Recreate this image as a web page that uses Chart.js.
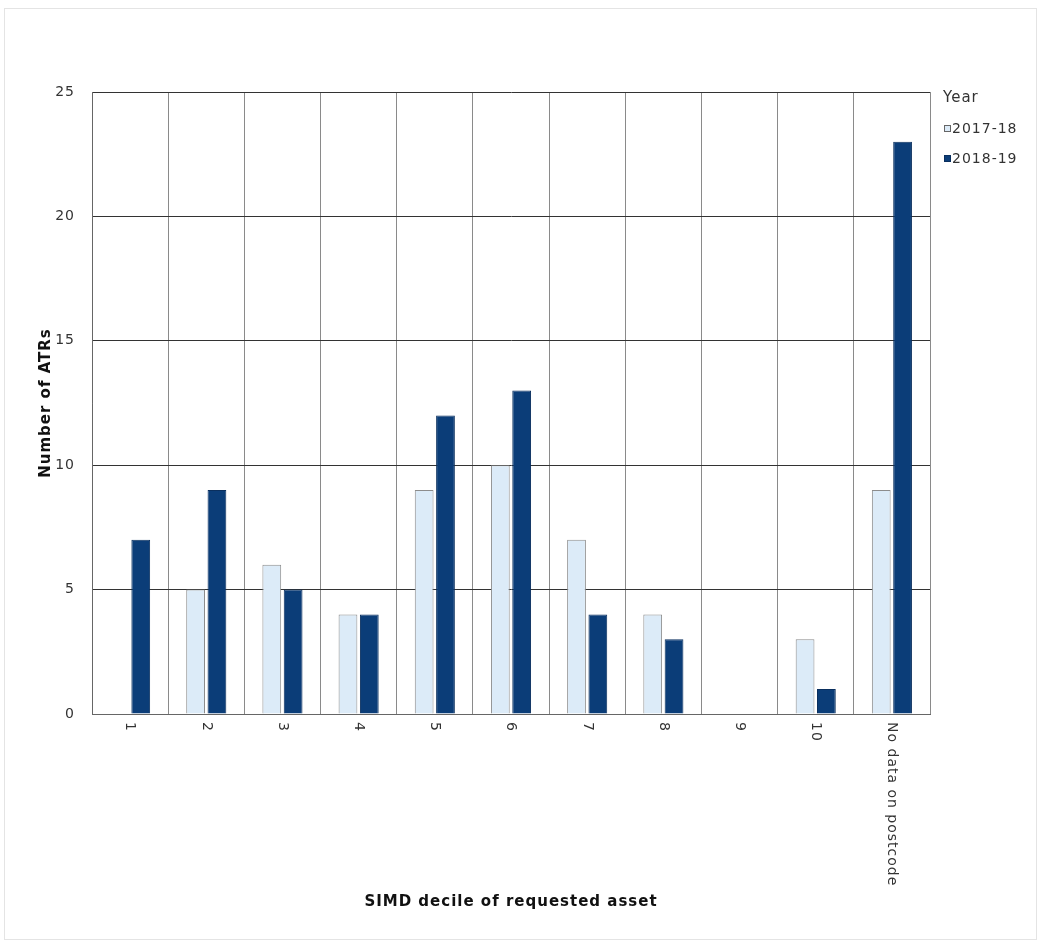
<!DOCTYPE html>
<html>
<head>
<meta charset="utf-8">
<script src="https://cdn.jsdelivr.net/npm/chart.js@4"></script>
<style>
  html, body { margin: 0; padding: 0; background: #fff; }
  #wrap { width: 1041px; height: 943px; }
</style>
</head>
<body>
<div id="wrap"><canvas id="chart" width="1041" height="943"></canvas></div>
<script>
// SIMD decile categories and ATR counts per year
const categories = ['1', '2', '3', '4', '5', '6', '7', '8', '9', '10', 'No data on postcode'];
const seriesNames = ['2017-18', '2018-19'];
const atrs2017 = [0, 5, 6, 4, 9, 10, 7, 4, 0, 3, 9];
const atrs2018 = [7, 9, 5, 4, 12, 13, 4, 3, 0, 1, 23];
const yTicks = [0, 5, 10, 15, 20, 25];

const FONT = '"DejaVu Sans", "Liberation Sans", Arial, sans-serif';
const fills = ['#dcebf8', '#0b3d78'];
const borders = ['#8c8c8c', '#0a2f5e'];

// the reference text is wide-set, so space the letters a little
const spacing = {
  id: 'spacing',
  beforeDraw(chart) { chart.ctx.letterSpacing = '1px'; },
};

// x tick labels run top-to-bottom (rotated clockwise), so draw them by hand
const rotatedLabels = {
  id: 'rotatedLabels',
  afterDraw(chart) {
    const { ctx, scales: { x } } = chart;
    ctx.save();
    ctx.font = '14px ' + FONT;
    ctx.fillStyle = '#333';
    ctx.textAlign = 'left';
    ctx.textBaseline = 'middle';
    categories.forEach((label, i) => {
      ctx.save();
      ctx.translate(x.getPixelForTick(i), chart.chartArea.bottom + 8);
      ctx.rotate(Math.PI / 2);
      ctx.fillText(label, 0, 0);
      ctx.restore();
    });
    ctx.restore();
  }
};

// legend on the right with "Year" title and small square markers
const sideLegend = {
  id: 'sideLegend',
  afterDraw(chart) {
    const { ctx } = chart;
    const left = chart.chartArea.right + 13;
    ctx.save();
    ctx.fillStyle = '#333';
    ctx.textBaseline = 'middle';
    ctx.font = '15px ' + FONT;
    ctx.fillText('Year', left, 98);
    ctx.font = '14px ' + FONT;
    seriesNames.forEach((name, i) => {
      const y = 129 + i * 30;
      ctx.fillStyle = fills[i];
      ctx.fillRect(left + 1.5, y - 3.5, 6, 6);
      ctx.strokeStyle = i === 0 ? '#666' : borders[i];
      ctx.lineWidth = 1;
      ctx.strokeRect(left + 1.5, y - 3.5, 6, 6);
      ctx.fillStyle = '#333';
      ctx.fillText(name, left + 9, y);
    });
    // faint outer frame
    ctx.strokeStyle = '#e4e4e4';
    ctx.strokeRect(4.5, 8.5, 1032, 931);
    ctx.restore();
    ctx.letterSpacing = '0px';
  }
};

new Chart(document.getElementById('chart'), {
  type: 'bar',
  data: {
    labels: categories,
    datasets: [
      { label: seriesNames[0], data: atrs2017, backgroundColor: fills[0], borderColor: borders[0], borderWidth: 1 },
      { label: seriesNames[1], data: atrs2018, backgroundColor: fills[1], borderColor: borders[1], borderWidth: 1 },
    ],
  },
  options: {
    responsive: false,
    animation: false,
    categoryPercentage: 0.56,
    barPercentage: 0.88,
    layout: { padding: { left: 33, top: 92, right: 111, bottom: 28 } },
    plugins: { legend: { display: false }, tooltip: { enabled: false } },
    scales: {
      x: {
        grid: { color: '#8a8a8a', drawTicks: false, offset: true },
        border: { color: '#666' },
        ticks: { display: false },
        title: { display: true, text: 'SIMD decile of requested asset', color: '#111', font: { family: FONT, size: 15, weight: 'bold' } },
        afterFit: (scale) => { scale.height = 201; },
      },
      y: {
        min: 0,
        max: 25,
        afterBuildTicks: (scale) => { scale.ticks = yTicks.map(v => ({ value: v })); },
        grid: { color: '#333', drawTicks: false },
        border: { color: '#666' },
        ticks: { color: '#333', padding: 17, font: { family: FONT, size: 14 } },
        title: { display: true, text: 'Number of ATRs', color: '#111', font: { family: FONT, size: 15, weight: 'bold' } },
        afterFit: (scale) => { scale.width = 59; },
      },
    },
  },
  plugins: [spacing, rotatedLabels, sideLegend],
});
</script>
</body>
</html>
